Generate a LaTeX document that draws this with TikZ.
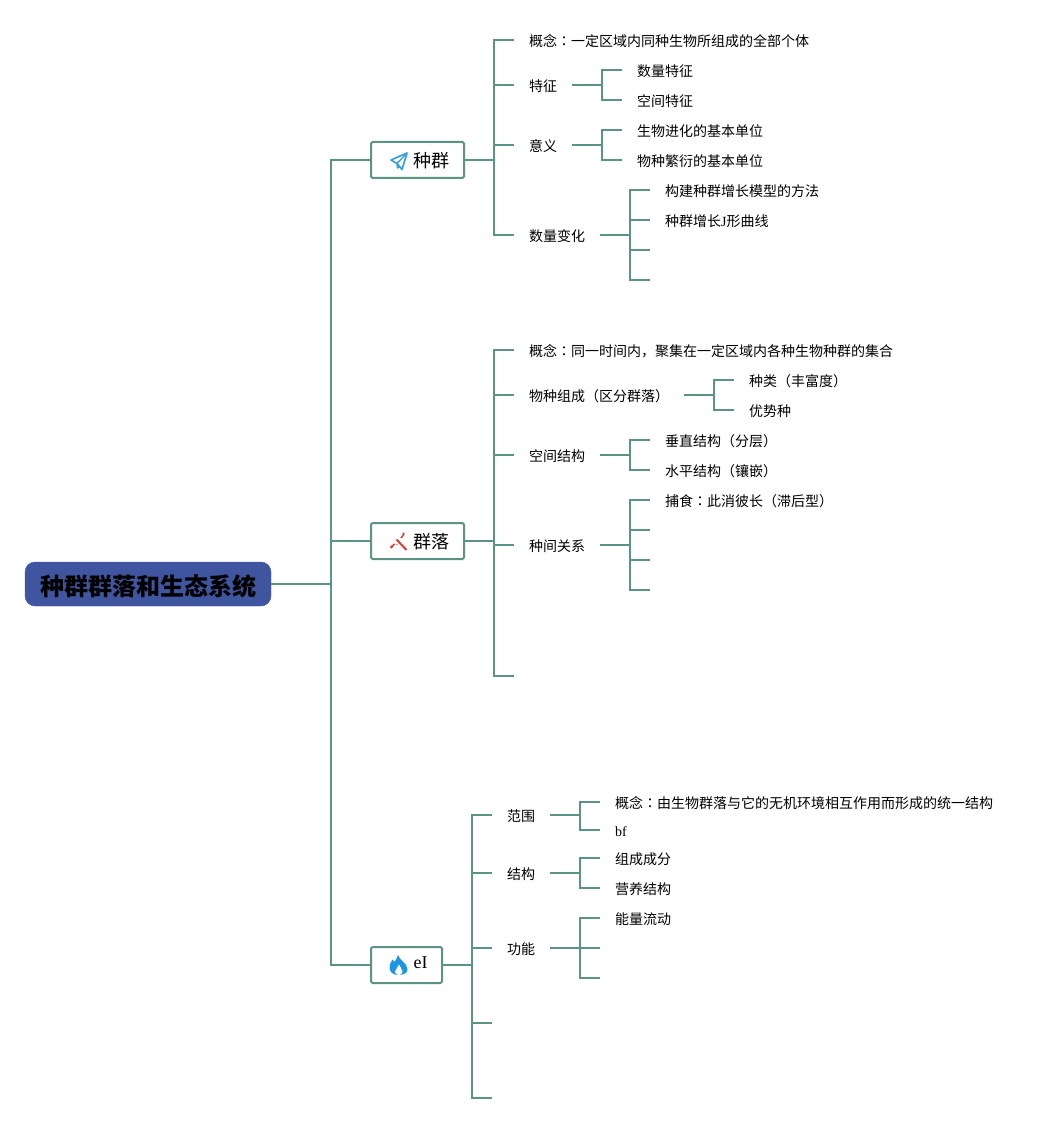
\documentclass[tikz,border=0pt]{standalone}
\usepackage{fontspec}
\setmainfont{Liberation Serif}
\newfontfamily\cjk{Noto Sans CJK SC}
\newfontfamily\jpcjk{Noto Sans CJK JP}
\definecolor{linkteal}{RGB}{91,148,133}
\definecolor{rootblue}{RGB}{64,85,160}
\definecolor{planeblue}{RGB}{58,160,220}
\definecolor{wandred}{RGB}{222,62,50}
\definecolor{flameblue}{RGB}{30,150,225}
\newcommand{\jpcolon}{{\jpcjk ：}}
\tikzset{
    link/.style={draw=linkteal, line width=2pt},
    item/.style={anchor=west, inner xsep=15pt, inner ysep=0pt, text height=14.5pt, text depth=1.5pt, font=\fontsize{14}{16}\selectfont\cjk},
    topic/.style={draw=linkteal, line width=2pt, fill=white, rounded corners=1.5pt, minimum height=36pt, inner sep=0pt, outer sep=0pt, text height=17pt, text depth=1.4pt, font=\fontsize{18}{20}\selectfont\cjk},
}

\begin{document}
\begin{tikzpicture}[x=1pt, y=-1pt]
    \useasboundingbox (0,0) rectangle (1053,1123);

    % Draw the root and the three topics
    \node[fill=rootblue, draw=rootblue, rounded corners=10pt, minimum width=246pt, minimum height=44pt, inner sep=0pt, outer sep=0pt, text height=24pt, text depth=1.8pt, font=\fontsize{24}{26}\selectfont\cjk\bfseries] (root) at (148,584) {种群群落和生态系统};
    \node[topic, minimum width=93pt] (zhongqun) at (417.5,160) {\hspace*{28pt}种群};
    \node[topic, minimum width=93pt] (qunluo) at (417.5,541) {\hspace*{28pt}群落};
    \node[topic, minimum width=71pt] (eco) at (406.5,965) {\hspace*{28pt}\raisebox{4pt}{\rmfamily eI}};

    % Entries of the first topic
    \node[item] (zqconcept) at (514,40) {概念\jpcolon 一定区域内同种生物所组成的全部个体};
    \node[item] (zqfeature) at (514,85) {特征};
    \node[item] (zqmeaning) at (514,145) {意义};
    \node[item] (zqchange) at (514,235) {数量变化};
    \node[item] (featurea) at (622,70) {数量特征};
    \node[item] (featureb) at (622,100) {空间特征};
    \node[item] (meaninga) at (622,130) {生物进化的基本单位};
    \node[item] (meaningb) at (622,160) {物种繁衍的基本单位};
    \node[item] (changea) at (650,190) {构建种群增长模型的方法};
    \node[item] (changeb) at (650,220) {种群增长{\rmfamily J}形曲线};
    \coordinate (changec) at (650,250);
    \coordinate (changed) at (650,280);

    % Entries of the second topic
    \node[item] (qlconcept) at (514,350) {概念\jpcolon 同一时间内，聚集在一定区域内各种生物种群的集合};
    \node[item] (qlspecies) at (514,395) {物种组成（区分群落）};
    \node[item] (qlspace) at (514,455) {空间结构};
    \node[item] (qlrelation) at (514,545) {种间关系};
    \coordinate (qlempty) at (514,676);
    \node[item] (speciesa) at (734,380) {种类（丰富度）};
    \node[item] (speciesb) at (734,410) {优势种};
    \node[item] (spacea) at (650,440) {垂直结构（分层）};
    \node[item] (spaceb) at (650,470) {水平结构（镶嵌）};
    \node[item] (relationa) at (650,500) {捕食\jpcolon 此消彼长（滞后型）};
    \coordinate (relationb) at (650,530);
    \coordinate (relationc) at (650,560);
    \coordinate (relationd) at (650,590);

    % Entries of the third topic
    \node[item] (ecorange) at (492,815) {范围};
    \node[item] (ecostruct) at (492,873) {结构};
    \node[item] (ecofunc) at (492,948) {功能};
    \coordinate (ecoemptya) at (492,1023);
    \coordinate (ecoemptyb) at (492,1098);
    \node[item] (rangea) at (600,802) {概念\jpcolon 由生物群落与它的无机环境相互作用而形成的统一结构};
    \node[item] (rangeb) at (600,830) {\rmfamily bf};
    \node[item] (structa) at (600,858) {组成成分};
    \node[item] (structb) at (600,888) {营养结构};
    \node[item] (funca) at (600,918) {能量流动};
    \coordinate (funcb) at (600,948);
    \coordinate (funcc) at (600,978);

    % Draw the connectors
    \foreach \child in {zhongqun,qunluo,eco}
        \draw[link] (root.east) -- ++(60,0) |- (\child.west);
    \foreach \child in {zqconcept,zqfeature,zqmeaning,zqchange}
        \draw[link] (zhongqun.east) -- ++(30,0) |- (\child.west);
    \foreach \child in {featurea,featureb}
        \draw[link] (zqfeature.east) -- ++(30,0) |- (\child.west);
    \foreach \child in {meaninga,meaningb}
        \draw[link] (zqmeaning.east) -- ++(30,0) |- (\child.west);
    \foreach \child in {changea.west,changeb.west,changec,changed}
        \draw[link] (zqchange.east) -- ++(30,0) |- (\child);
    \foreach \child in {qlconcept.west,qlspecies.west,qlspace.west,qlrelation.west,qlempty}
        \draw[link] (qunluo.east) -- ++(30,0) |- (\child);
    \foreach \child in {speciesa,speciesb}
        \draw[link] (qlspecies.east) -- ++(30,0) |- (\child.west);
    \foreach \child in {spacea,spaceb}
        \draw[link] (qlspace.east) -- ++(30,0) |- (\child.west);
    \foreach \child in {relationa.west,relationb,relationc,relationd}
        \draw[link] (qlrelation.east) -- ++(30,0) |- (\child);
    \foreach \child in {ecorange.west,ecostruct.west,ecofunc.west,ecoemptya,ecoemptyb}
        \draw[link] (eco.east) -- ++(30,0) |- (\child);
    \foreach \child in {rangea,rangeb}
        \draw[link] (ecorange.east) -- ++(30,0) |- (\child.west);
    \foreach \child in {structa,structb}
        \draw[link] (ecostruct.east) -- ++(30,0) |- (\child.west);
    \foreach \child in {funca.west,funcb,funcc}
        \draw[link] (ecofunc.east) -- ++(30,0) |- (\child);

    % Paper plane icon
    \draw[planeblue, line width=1.7pt, line join=round] (391,160) -- (407,153) -- (402,169.5) -- (397,163.5) -- cycle;
    \draw[planeblue, line width=1.4pt, line join=round] (397,163.5) -- (407,153) (397,163.5) -- (397.5,168) -- (400,166);

    % Wand icon
    \draw[wandred, line width=2pt] (396.5,539.5) -- (406.5,550);
    \draw[wandred, line width=1.5pt] (392,546.5) -- (394.5,544) (401,538) -- (404,534);
    \fill[wandred] (391.5,547) circle (1.6pt) (403.5,533.5) circle (1.2pt) (397,544.5) circle (0.7pt);

    % Flame icon
    \fill[flameblue] (398,955) .. controls (399,960) and (407.5,963) .. (407.5,969.5) .. controls (407.5,973) and (403.5,975) .. (398.5,975) .. controls (393,975) and (389.5,972) .. (389.5,967.5) .. controls (389.5,964) and (391,962) .. (392.5,959.5) .. controls (393,961) and (393.5,961.5) .. (394.5,962) .. controls (395.5,960) and (397.5,958) .. (398,955) -- cycle;
    \fill[white] (399,964.5) .. controls (399.5,967.5) and (402.5,968.5) .. (402.5,971.5) .. controls (402.5,973.5) and (401,975) .. (399,975) .. controls (396.5,975) and (395,973.5) .. (395,971.5) .. controls (395,969) and (398.5,967.5) .. (399,964.5) -- cycle;
\end{tikzpicture}
\end{document}
